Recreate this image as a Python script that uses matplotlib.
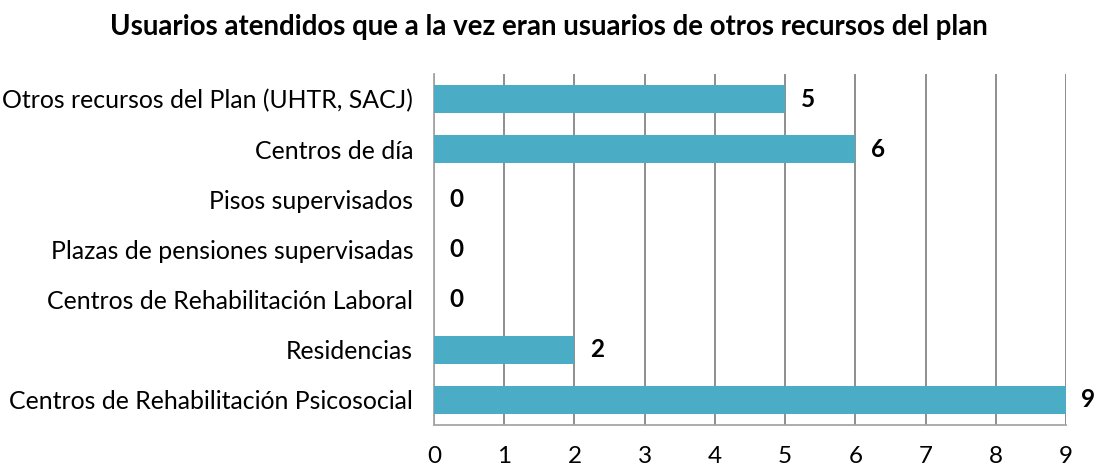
import numpy as np
import matplotlib.pyplot as plt

plt.rcParams['font.family'] = ['Lato', 'DejaVu Sans']

categorias = ['Otros recursos del Plan (UHTR, SACJ)',
              'Centros de día',
              'Pisos supervisados',
              'Plazas de pensiones supervisadas',
              'Centros de Rehabilitación Laboral',
              'Residencias',
              'Centros de Rehabilitación Psicosocial']
usuarios = [5, 6, 0, 0, 0, 2, 9]
ticks_x = [0, 1, 2, 3, 4, 5, 6, 7, 8, 9]

color_barra = '#4BACC6'
gris = '#868686'

fig = plt.figure(figsize=(10.98, 4.70), dpi=100)
ax = fig.add_axes([434 / 1098, 1 - 425 / 470, 632 / 1098, 351 / 470])

y = np.arange(len(categorias))
ax.barh(y, usuarios, height=0.55, color=color_barra, zorder=3)
for yi, v in zip(y, usuarios):
    ax.text(v + 0.22, yi, str(v), va='center', ha='left',
            fontsize=17.5, fontweight='bold')

ax.set_yticks(y)
ax.set_yticklabels(categorias, fontsize=17.9)
ax.set_ylim(len(categorias) - 0.5, -0.5)
ax.set_xlim(0, 9)
ax.set_xticks(ticks_x)
ax.set_xticklabels([str(t) for t in ticks_x], fontsize=17.5)

ax.grid(axis='x', color=gris, linewidth=1.3, zorder=0)
ax.tick_params(axis='both', length=0)
ax.tick_params(axis='x', pad=15)
ax.tick_params(axis='y', pad=15)
for lado in ['top', 'right']:
    ax.spines[lado].set_visible(False)
ax.spines['left'].set_color('#a6a6a6')
ax.spines['bottom'].set_color('#a6a6a6')
ax.spines['left'].set_linewidth(1.3)
ax.spines['bottom'].set_linewidth(1.3)

fig.text(0.5, 1 - 27 / 470, 'Usuarios atendidos que a la vez eran usuarios de otros recursos del plan',
         ha='center', va='center', fontsize=19.9, fontweight='bold')

fig.savefig('out.png', dpi=100)
